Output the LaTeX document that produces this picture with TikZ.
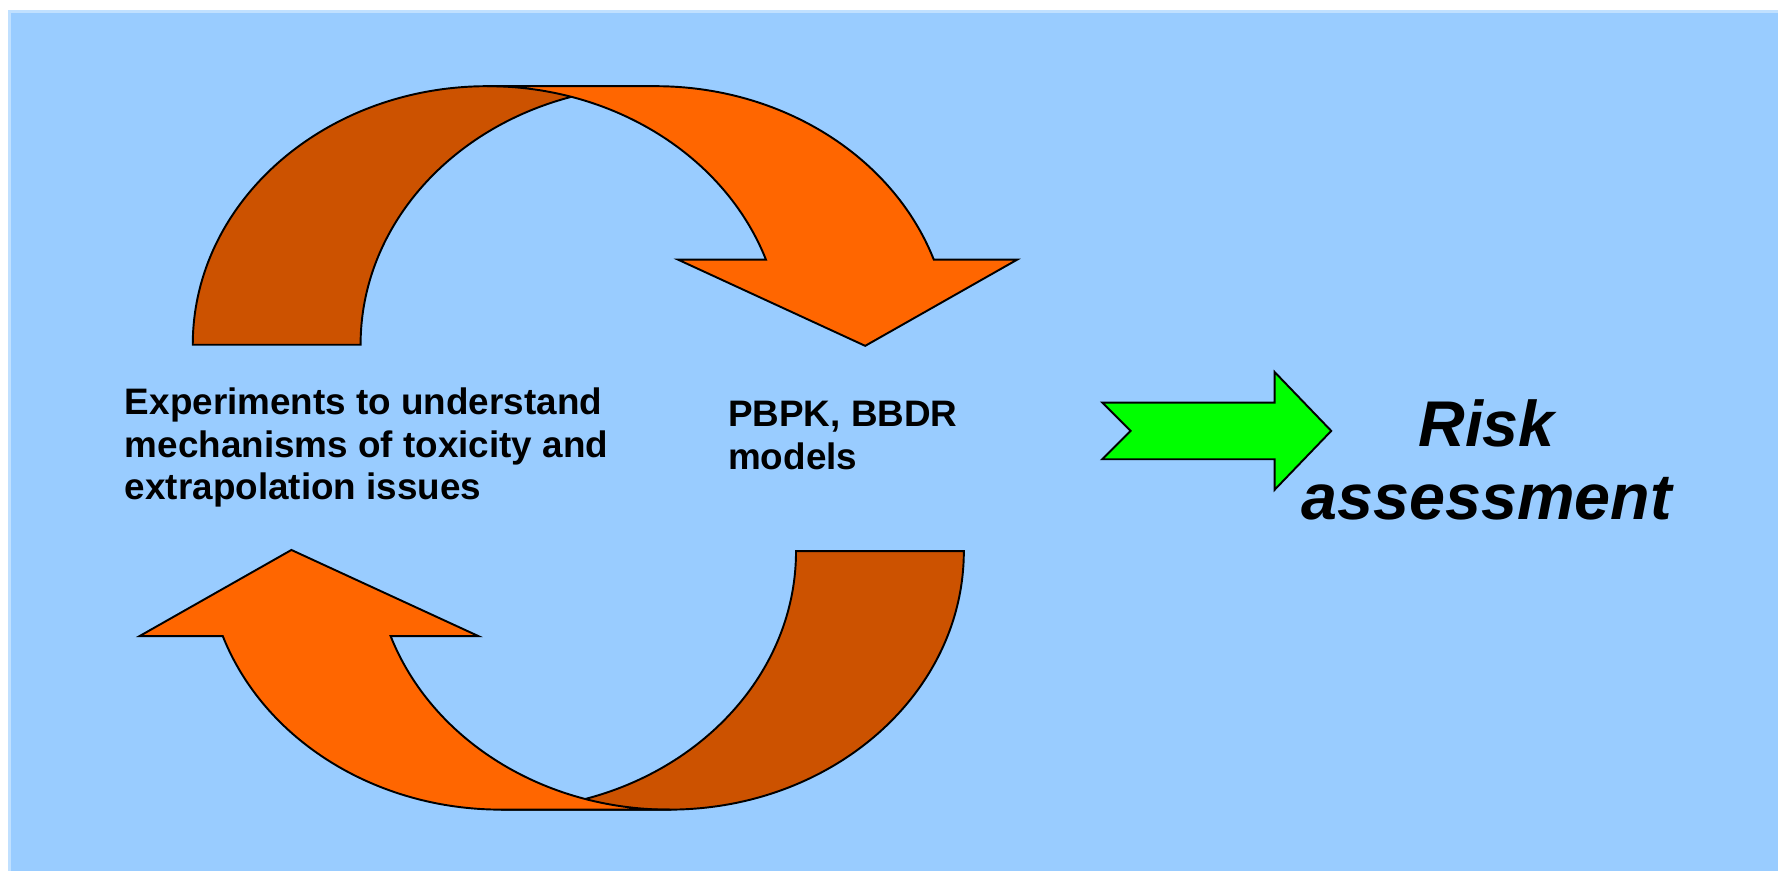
\documentclass[tikz,border=0pt]{standalone}
\usepackage{fontspec}
\setmainfont{Liberation Sans}

\definecolor{skyblue}{HTML}{99CCFF}
\definecolor{paleblue}{HTML}{C0E0FF}
\definecolor{rust}{HTML}{CC5200}
\definecolor{tangerine}{HTML}{FF6600}
\definecolor{limegreen}{HTML}{00FF00}

\tikzset{
    backband/.style={draw=black, line width=1.7pt, fill=rust},
    frontband/.style={draw=black, line width=1.7pt, fill=tangerine},
    goarrow/.style={draw=black, line width=1.7pt, fill=limegreen},
    caption/.style={inner sep=0pt, align=left, font=\bfseries\fontsize{32.5}{37.5}\selectfont},
    bigcaption/.style={inner sep=0pt, align=center, font=\bfseries\itshape\fontsize{57}{65}\selectfont},
    oval/.style={x radius=260, y radius=228}
}

\begin{document}
\begin{tikzpicture}[x=1pt, y=-1pt]
        \useasboundingbox (0,0) rectangle (1568,768);

        % Background
        \fill[white] (0,0) rectangle (1568,768);
        \fill[paleblue] (7,9) rectangle (1568,768);
        \fill[skyblue] (9.5,11.5) rectangle (1568,768);

        % Upper curved arrow, the lower one is the same turned round
        \foreach \turn in {0,180} {
            \begin{scope}[rotate around={\turn:(510,395)}]
                \draw[backband] (170,304) arc[start angle=180, end angle=270, oval]
                    -- (578,76) arc[start angle=270, end angle=180, oval] -- cycle;
                \draw[frontband] (430,76) -- (578,76) arc[start angle=270, end angle=340.8, oval]
                    -- (897,229) -- (763,305) -- (598,229)
                    -- (675.5,229) arc[start angle=340.8, end angle=270, oval] -- cycle;
            \end{scope}
        }

        % Arrow to the result
        \draw[goarrow] (972,355) -- (1124,355) -- (1124,328) -- (1174,380)
            -- (1124,432) -- (1124,405) -- (972,405) -- (997,380) -- cycle;

        % Labels
        \node[caption, anchor=north west] (experiments) at (110,342)
            {Experiments to understand\\mechanisms of toxicity and\\extrapolation issues};
        \node[caption, anchor=north west] (models) at (642,354) {PBPK, BBDR\\models};
        \node[bigcaption, anchor=north] (risk) at (1311,352) {Risk\\assessment};
    \end{tikzpicture}
\end{document}
